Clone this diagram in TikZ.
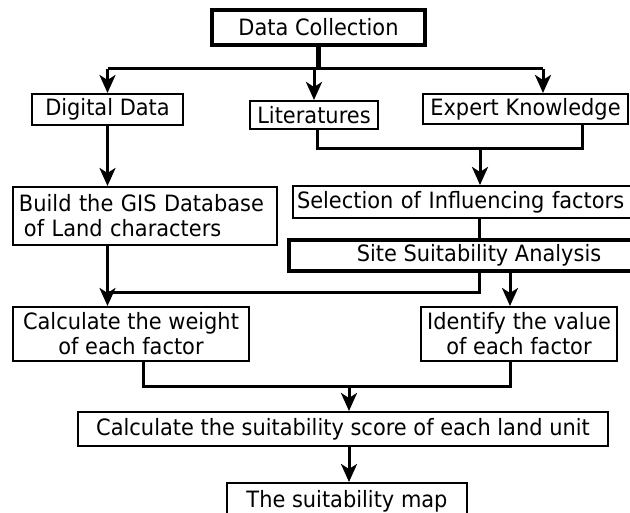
\documentclass[tikz,border=0pt]{standalone}
\usepackage{fontspec}
\setmainfont[FakeStretch=0.93]{DejaVu Sans}
\usetikzlibrary{arrows.meta}
\begin{document}
\begin{tikzpicture}[x=1pt,y=-1pt,
  box/.style={draw, line width=2pt, inner sep=0pt, font=\fontsize{22.5}{25}\selectfont, fill=white},
  heavybox/.style={box, line width=3.2pt},
  conn/.style={line width=3pt},
  heavyconn/.style={line width=5.5pt},
  arr/.style={conn, -{Stealth[length=18pt,width=16pt,inset=5pt]}}]
\path[use as bounding box, fill=white] (0,0) rectangle (630,513);
\clip (0,0) rectangle (630,513);

% nodes
\node[heavybox, minimum width=213pt, minimum height=35pt] (dc) at (318.5,27.5) {Data Collection};
\node[box, minimum width=151pt, minimum height=31pt] (dd) at (107.5,109.5) {Digital Data};
\node[box, minimum width=128pt, minimum height=28pt] (lit) at (314,115) {Literatures};
\node[box, minimum width=205pt, minimum height=30pt] (ek) at (525.5,109) {Expert Knowledge};
\node[box, minimum width=264pt, minimum height=58pt, text width=252pt, align=left] (gis) at (145,216)
  {Build the GIS Database\\\hspace*{5pt}of Land characters};
\node[box, minimum width=352pt, minimum height=32pt, text width=344pt, align=left] (sel) at (469,202)
  {Selection of Influencing factors};
\node[heavybox, minimum width=380pt, minimum height=31pt] (site) at (479,255.5) {Site Suitability Analysis};
\node[box, minimum width=236pt, minimum height=54pt, align=center] (cw) at (131,334)
  {Calculate the weight\\of each factor};
\node[box, minimum width=196pt, minimum height=54pt, align=center] (iv) at (519,334)
  {Identify the value\\of each factor};
\node[box, minimum width=530pt, minimum height=34pt] (cs) at (343,429)
  {Calculate the suitability score of each land unit};
\node[box, minimum width=240pt, minimum height=36pt] (map) at (347,501) {The suitability map};

% helper coordinates
\coordinate (h1) at (0,69);
\coordinate (eka) at (543,0);
\coordinate (litb) at (317,0);
\coordinate (ekb) at (582,0);
\coordinate (m1) at (0,149);
\coordinate (selx) at (480,0);
\coordinate (m2) at (0,293);
\coordinate (ivx) at (510,0);
\coordinate (cwx) at (143,0);
\coordinate (m3) at (0,387);
\coordinate (csx) at (349,0);

% connectors
\draw[heavyconn] (dc.south) -- (dc.south |- h1);
\draw[conn] (dd.north |- h1) -- (eka |- h1);
\draw[arr] (dd.north |- h1) -- (dd.north);
\draw[arr] (lit.north |- h1) -- (lit.north);
\draw[arr] (eka |- h1) -- (eka |- ek.north);
\draw[arr] (dd.south) -- (gis.north -| dd.south);
\draw[conn] (litb |- lit.south) -- (litb |- m1) -- (ekb |- m1) -- (ekb |- ek.south);
\draw[arr] (selx |- m1) -- (selx |- sel.north);
\draw[conn] (sel.south -| site.north) -- (site.north);
\draw[conn] (site.south) -- (site.south |- m2) -- (dd.south |- m2);
\draw[arr] (gis.south -| dd.south) -- (cw.north -| dd.south);
\draw[arr] (ivx |- site.south) -- (ivx |- iv.north);
\draw[conn] (cwx |- cw.south) -- (cwx |- m3) -- (ivx |- m3) -- (ivx |- iv.south);
\draw[arr] (csx |- m3) -- (csx |- cs.north);
\draw[arr] (csx |- cs.south) -- (csx |- map.north);
\end{tikzpicture}
\end{document}
